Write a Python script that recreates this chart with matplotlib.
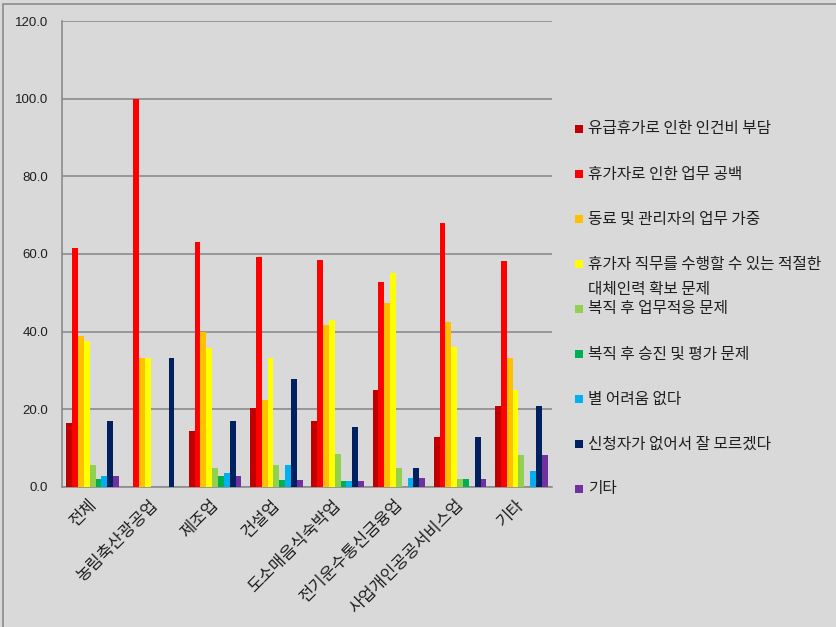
import matplotlib.pyplot as plt
import numpy as np
from matplotlib.patches import Rectangle
from matplotlib.transforms import ScaledTranslation

plt.rcParams['font.family'] = ['Noto Sans CJK KR', 'DejaVu Sans']

# 업종별 육아휴직 관련 어려움 (%)
industries = ['전체', '농림축산광공업', '제조업', '건설업', '도소매음식숙박업',
              '전기운수통신금융업', '사업개인공공서비스업', '기타']

series_names = [
    '유급휴가로 인한 인건비 부담',
    '휴가자로 인한 업무 공백',
    '동료 및 관리자의 업무 가중',
    '휴가자 직무를 수행할 수 있는 적절한\n대체인력 확보 문제',
    '복직 후 업무적응 문제',
    '복직 후 승진 및 평가 문제',
    '별 어려움 없다',
    '신청자가 없어서 잘 모르겠다',
    '기타',
]

cost_burden = [16.5, 0.0, 14.5, 20.3, 16.9, 25.0, 12.8, 20.8]
work_gap = [61.6, 100.0, 63.1, 59.3, 58.5, 52.7, 68.0, 58.3]
coworker_load = [38.9, 33.3, 40.0, 22.4, 41.7, 47.4, 42.5, 33.3]
replacement = [37.6, 33.3, 35.9, 33.3, 43.1, 55.0, 36.1, 25.0]
readjust = [5.6, 0.0, 5.0, 5.6, 8.4, 5.0, 2.1, 8.3]
promotion = [2.1, 0.0, 2.9, 1.7, 1.5, 0.0, 2.1, 0.0]
no_problem = [2.9, 0.0, 3.5, 5.6, 1.5, 2.3, 0.0, 4.2]
no_applicant = [16.9, 33.3, 16.9, 27.8, 15.4, 5.0, 12.8, 20.8]
etc = [2.9, 0.0, 2.9, 1.7, 1.5, 2.3, 2.1, 8.3]

colors = ['#C00000', '#FF0000', '#FFC000', '#FFFF00', '#92D050',
          '#00B050', '#00B0F0', '#002060', '#7030A0']

all_series = [cost_burden, work_gap, coworker_load, replacement, readjust,
              promotion, no_problem, no_applicant, etc]

bg = '#D9D9D9'
fig = plt.figure(figsize=(8.36, 6.27), dpi=100, facecolor=bg)
ax = fig.add_axes([0.0742, 0.2233, 0.586, 0.7432])
ax.set_facecolor(bg)

# outer frame (only top and left edges are visible in the crop)
fig.patches.append(Rectangle((3 / 836, -0.5), 1.5, 1.5 - 4 / 627,
                             transform=fig.transFigure, fill=False,
                             edgecolor='#8C8C8C', linewidth=1.2))

x = np.arange(len(industries))
n = len(all_series)
width = 0.86 / n
for i, vals in enumerate(all_series):
    ax.bar(x - 0.43 + width * (i + 0.5), vals, width=width, color=colors[i],
           edgecolor='none', zorder=3)

ax.set_xlim(-0.5, len(industries) - 0.5)
ax.set_ylim(0, 120)
ax.set_yticks(np.arange(0, 121, 20))
ax.set_yticklabels([f'{v:.1f}' for v in np.arange(0, 121, 20)],
                   family='Liberation Sans', fontsize=9.5, color='#1F1F1F')
ax.yaxis.grid(True, color='#8C8C8C', linewidth=1.2, zorder=0)
ax.set_axisbelow(True)
for s in ['top', 'right']:
    ax.spines[s].set_visible(False)
for s in ['left', 'bottom']:
    ax.spines[s].set_color('#8C8C8C')
    ax.spines[s].set_linewidth(1.2)
ax.tick_params(axis='y', length=0, pad=10)
ax.tick_params(axis='x', length=0, pad=7)
ax.set_xticks(x)
ax.set_xticklabels(industries, rotation=45, ha='right', rotation_mode='anchor',
                   fontsize=12, color='#1F1F1F')
shift = ScaledTranslation(-5 / 100, 0, fig.dpi_scale_trans)
for lab in ax.get_xticklabels():
    lab.set_transform(lab.get_transform() + shift)

# legend drawn on the right
top_y = 1 - 129 / 627
step = 45 / 627
for i, name in enumerate(series_names):
    yc = top_y - i * step
    fig.patches.append(Rectangle((575 / 836, yc - 4 / 627), 8 / 836, 8 / 627,
                                 transform=fig.transFigure,
                                 facecolor=colors[i], edgecolor='none'))
    for j, line in enumerate(name.split('\n')):
        fig.text(588 / 836, yc - j * 26 / 627, line, va='center', ha='left',
                 fontsize=11.3, color='#1F1F1F')

fig.savefig('out.png', dpi=100, facecolor=bg)
